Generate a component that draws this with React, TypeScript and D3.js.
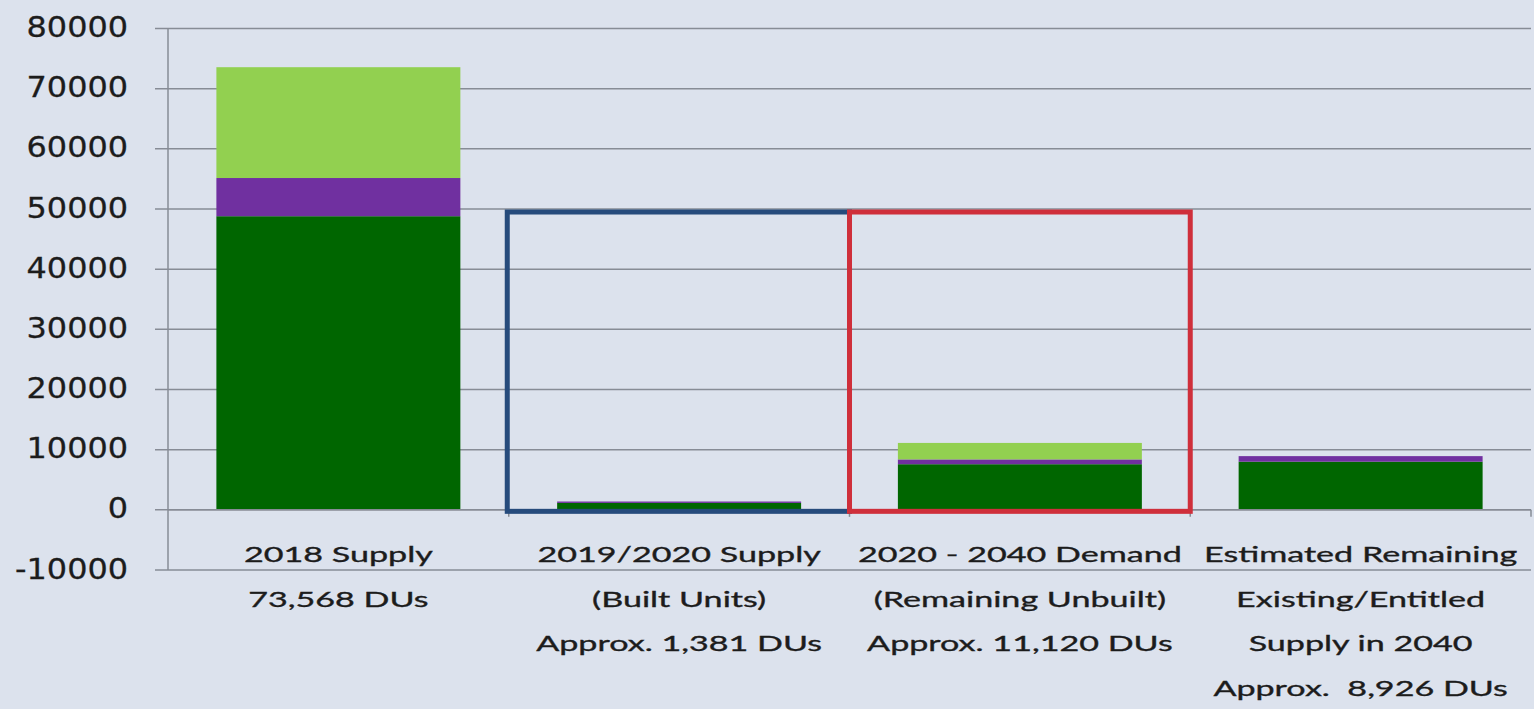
import React, { useEffect, useRef } from 'react';
import * as d3 from 'd3';

// category labels, one array of lines per bar
const categoryLabels: string[][] = [
  ['2018 Supply', '73,568 DUs'],
  ['2019/2020 Supply', '(Built Units)', 'Approx. 1,381 DUs'],
  ['2020 - 2040 Demand', '(Remaining Unbuilt)', 'Approx. 11,120 DUs'],
  ['Estimated Remaining', 'Existing/Entitled', 'Supply in 2040', 'Approx.  8,926 DUs'],
];

// stacked series, bottom to top
const seriesKeys = ['darkGreen', 'purple', 'lightGreen'];
const darkGreenValues = [48800, 1150, 7580, 8000];
const purpleValues = [6350, 231, 800, 926];
const lightGreenValues = [18418, 0, 2740, 0];
const seriesColors = ['#006600', '#7030a0', '#92d050'];

const yTicks = [-10000, 0, 10000, 20000, 30000, 40000, 50000, 60000, 70000, 80000];

// outlined boxes around categories 2 and 3
const highlightIndex = [1, 2];
const highlightColors = ['#264b7c', '#cf2f3b'];
const highlightTop = 49500;

const W = 1534;
const H = 709;

const App: React.FC = () => {
  const svgRef = useRef<SVGSVGElement>(null);

  useEffect(() => {
    if (!svgRef.current) return;
    const svg = d3.select(svgRef.current);
    svg.selectAll('*').remove();

    const left = 168;
    const right = 1531;

    const y = d3.scaleLinear().domain([-10000, 80000]).range([570, 28.5]);
    const x = d3.scaleBand<number>()
      .domain(categoryLabels.map((_, i) => i))
      .range([left, right])
      .padding(0);
    const barW = x.bandwidth() * 0.716;

    svg.append('rect').attr('width', W).attr('height', H).attr('fill', '#dce2ed');

    // gridlines + outer ticks
    svg.append('g')
      .selectAll('line')
      .data(yTicks)
      .join('line')
      .attr('x1', left - 13)
      .attr('x2', right)
      .attr('y1', d => y(d))
      .attr('y2', d => y(d))
      .attr('stroke', '#878c96')
      .attr('stroke-width', 1.5);

    // y tick labels (slightly widened, like the source)
    svg.append('g')
      .selectAll('text')
      .data(yTicks)
      .join('text')
      .attr('transform', d => `translate(128,${y(d) - 1.8}) scale(1.1,1)`)
      .attr('dy', '0.36em')
      .attr('text-anchor', 'end')
      .attr('font-family', 'DejaVu Sans')
      .attr('font-size', 29)
      .attr('fill', '#1c1c1c')
      .attr('stroke', '#1c1c1c')
      .attr('stroke-width', 0.3)
      .text(d => String(d));

    // stacked bars
    const rows = categoryLabels.map((_, i) => ({
      idx: i,
      darkGreen: darkGreenValues[i],
      purple: purpleValues[i],
      lightGreen: lightGreenValues[i],
    }));
    const stacked = d3.stack<any>().keys(seriesKeys)(rows);

    svg.append('g')
      .selectAll('g')
      .data(stacked)
      .join('g')
      .attr('fill', (_, i) => seriesColors[i])
      .selectAll('rect')
      .data(d => d)
      .join('rect')
      .attr('x', d => (x(d.data.idx) as number) + (x.bandwidth() - barW) / 2)
      .attr('width', barW)
      .attr('y', d => y(d[1]))
      .attr('height', d => Math.max(0, y(d[0]) - y(d[1])));

    // axes
    svg.append('line')
      .attr('x1', left).attr('x2', left)
      .attr('y1', y(80000)).attr('y2', y(-10000))
      .attr('stroke', '#878c96').attr('stroke-width', 1.5);

    svg.append('line')
      .attr('x1', left).attr('x2', right)
      .attr('y1', y(0)).attr('y2', y(0))
      .attr('stroke', '#878c96').attr('stroke-width', 1.5);

    const bounds = categoryLabels.map((_, i) => x(i) as number).concat([right]);
    svg.append('g')
      .selectAll('line')
      .data(bounds.slice(1))
      .join('line')
      .attr('x1', d => d).attr('x2', d => d)
      .attr('y1', y(0)).attr('y2', y(0) + 7)
      .attr('stroke', '#878c96').attr('stroke-width', 1.5);

    // highlight boxes
    svg.append('g')
      .selectAll('rect')
      .data(highlightIndex)
      .join('rect')
      .attr('x', d => (x(d) as number) - (d === 1 ? 1.5 : 0))
      .attr('width', d => x.bandwidth() + (d === 1 ? 1.5 : 0))
      .attr('y', y(highlightTop))
      .attr('height', y(0) - y(highlightTop) + 1.5)
      .attr('fill', 'none')
      .attr('stroke', (_, i) => highlightColors[i])
      .attr('stroke-width', 5);

    // category labels
    const labelG = svg.append('g')
      .attr('font-family', 'Lato')
      .attr('font-size', 22)
      .attr('fill', '#1c1c1c')
      .attr('stroke', '#1c1c1c')
      .attr('stroke-width', 0.35);

    categoryLabels.forEach((lines, i) => {
      const cx = (x(i) as number) + x.bandwidth() / 2;
      lines.forEach((line, j) => {
        labelG.append('text')
          .attr('transform', `translate(${cx},${562 + j * 44.5}) scale(1.55,1)`)
          .attr('text-anchor', 'middle')
          .attr('xml:space', 'preserve')
          .style('white-space', 'pre')
          .text(line);
      });
    });
  }, []);

  return (
    <svg
      ref={svgRef}
      width={W}
      height={H}
      style={{ position: 'absolute', left: 0, top: 0 }}
    />
  );
};

export default App;
